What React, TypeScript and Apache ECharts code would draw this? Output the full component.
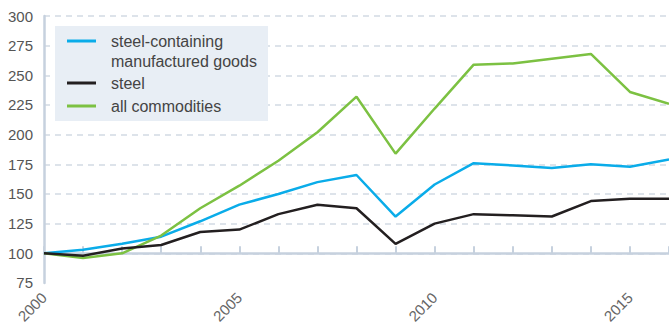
import React, { useEffect, useRef } from "react";
import * as echarts from "echarts";

const years = ["2000","2001","2002","2003","2004","2005","2006","2007","2008","2009","2010","2011","2012","2013","2014","2015","2016"];
const manufactured = [100, 103, 108, 114, 127, 141, 150, 160, 166, 131, 158, 176, 174, 172, 175, 173, 179];
const steel = [100, 98, 104, 107, 118, 120, 133, 141, 138, 108, 125, 133, 132, 131, 144, 146, 146];
const allCommodities = [100, 96, 100, 115, 138, 157, 178, 202, 232, 184, 222, 259, 260, 264, 268, 236, 226];
const legendNames = ["steel-containing\nmanufactured goods", "steel", "all commodities"];
const colors = ["#0aace9", "#231f20", "#7cc142"];
const BASE = 100;

const FONT = "Liberation Sans, Arial, sans-serif";

export default function App() {
  const ref = useRef<HTMLDivElement>(null);
  useEffect(() => {
    if (!ref.current) return;
    const chart = echarts.init(ref.current, undefined, { renderer: "svg" });
    const shift = (arr: number[]) => arr.map((v) => v - BASE);
    const seriesData = [manufactured, steel, allCommodities];
    const axisColor = "#c6d1de";
    const textFill = "#444";
    chart.setOption({
      animation: false,
      textStyle: { fontFamily: FONT },
      grid: { left: 44, right: -4, top: 16, bottom: 41, containLabel: false },
      xAxis: [
        {
          type: "category",
          data: years,
          boundaryGap: false,
          position: "bottom",
          axisLine: { show: false, onZero: false },
          axisTick: { show: false },
          splitLine: { show: false },
          axisLabel: {
            rotate: 45,
            interval: 4,
            color: "#666",
            fontSize: 15,
            fontFamily: FONT,
            margin: 12,
          },
        },
        {
          type: "category",
          data: years,
          boundaryGap: false,
          position: "bottom",
          axisLine: { show: true, onZero: true, lineStyle: { color: axisColor, width: 2.5 } },
          axisTick: { show: true, inside: true, length: 7, interval: 0, lineStyle: { color: axisColor, width: 2 } },
          axisLabel: { show: false },
          splitLine: { show: false },
        },
      ],
      yAxis: {
        type: "value",
        min: -25,
        max: 200,
        interval: 25,
        axisLine: { show: true, lineStyle: { color: axisColor, width: 2.5 } },
        axisTick: { show: false },
        axisLabel: {
          color: "#555",
          fontSize: 15,
          fontFamily: FONT,
          margin: 11,
          formatter: (v: number) => String(v + BASE),
        },
        splitLine: {
          show: true,
          showMinLine: false,
          lineStyle: { color: "#d2dae4", width: 1.5, type: [6, 5] },
        },
      },
      series: seriesData.map((d, i) => ({
        type: "line",
        name: legendNames[i],
        data: shift(d),
        xAxisIndex: 0,
        symbol: "none",
        lineStyle: { color: colors[i], width: 2.5 },
        z: i === 1 ? 4 : 3,
      })),
      graphic: [
        { type: "rect", z: 100, shape: { x: 55, y: 26, width: 213, height: 95 }, style: { fill: "#e8eef5" } },
        { type: "line", z: 101, shape: { x1: 67, y1: 41, x2: 96, y2: 41 }, style: { stroke: colors[0], lineWidth: 3 } },
        { type: "line", z: 101, shape: { x1: 67, y1: 83, x2: 96, y2: 83 }, style: { stroke: colors[1], lineWidth: 3 } },
        { type: "line", z: 101, shape: { x1: 67, y1: 106, x2: 96, y2: 106 }, style: { stroke: colors[2], lineWidth: 3 } },
        { type: "text", z: 101, x: 111, y: 41, style: { text: "steel-containing", fill: textFill, font: `16px ${FONT}`, verticalAlign: "middle" } },
        { type: "text", z: 101, x: 111, y: 61, style: { text: "manufactured goods", fill: textFill, font: `16px ${FONT}`, verticalAlign: "middle" } },
        { type: "text", z: 101, x: 111, y: 83, style: { text: legendNames[1], fill: textFill, font: `16px ${FONT}`, verticalAlign: "middle" } },
        { type: "text", z: 101, x: 111, y: 106, style: { text: legendNames[2], fill: textFill, font: `16px ${FONT}`, verticalAlign: "middle" } },
      ],
    });
    return () => chart.dispose();
  }, []);
  return (
    <div
      ref={ref}
      style={{ position: "fixed", left: 0, top: 0, width: 669, height: 326, background: "#fff" }}
    />
  );
}
